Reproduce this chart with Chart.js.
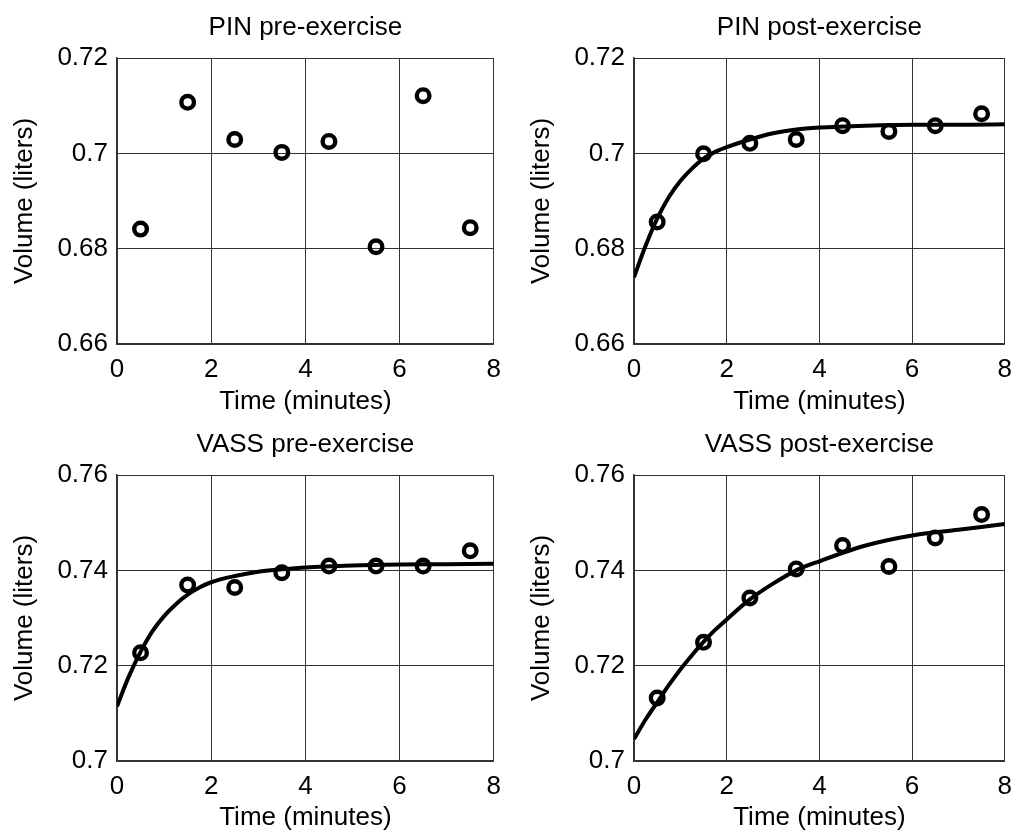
<!DOCTYPE html>
<html>
<head>
<meta charset="utf-8">
<title>Volume vs time</title>
<script src="https://cdn.jsdelivr.net/npm/chart.js@4.4.1/dist/chart.umd.min.js"></script>
<style>
  body { margin: 0; background: #fff; }
  canvas { position: absolute; }
</style>
</head>
<body>
<canvas id="pinPre" width="511" height="417" style="left:0;top:0"></canvas>
<canvas id="pinPost" width="511" height="417" style="left:511px;top:0"></canvas>
<canvas id="vassPre" width="511" height="416" style="left:0;top:417px"></canvas>
<canvas id="vassPost" width="511" height="416" style="left:511px;top:417px"></canvas>

<script>
// measured volumes (liters) at each minute
const minutes = [0.5, 1.5, 2.5, 3.5, 4.5, 5.5, 6.5, 7.5];
const pinPre = [0.6841, 0.7107, 0.7029, 0.7002, 0.7025, 0.6804, 0.7121, 0.6844];
const pinPost = [0.6856, 0.6999, 0.7021, 0.7029, 0.7058, 0.7046, 0.7058, 0.7083];
const vassPre = [0.7227, 0.7369, 0.7364, 0.7395, 0.7409, 0.7409, 0.7409, 0.7441];
const vassPost = [0.7132, 0.7249, 0.7342, 0.7403, 0.7452, 0.7408, 0.7468, 0.7517];

// fitted curves
const fitMinutes = [0, 0.25, 0.5, 0.75, 1, 1.25, 1.5, 1.75, 2, 2.5, 3, 3.5, 4, 5, 6, 7, 8];
const pinPostFit = [0.6740, 0.6806, 0.6863, 0.6908, 0.6942, 0.6968, 0.6989, 0.7003, 0.7013, 0.7029, 0.7042, 0.7050, 0.7054, 0.7058, 0.7060, 0.7060, 0.7061];
const vassPreFit = [0.7115, 0.7177, 0.7229, 0.7272, 0.7304, 0.7329, 0.7349, 0.7364, 0.7375, 0.7388, 0.7397, 0.7402, 0.7406, 0.7410, 0.7412, 0.7413, 0.7414];
const vassPostFit = [0.7046, 0.7087, 0.7123, 0.7159, 0.7192, 0.7222, 0.7250, 0.7275, 0.7297, 0.7339, 0.7372, 0.7400, 0.7419, 0.7452, 0.7473, 0.7485, 0.7497];

const xTicks = [0, 2, 4, 6, 8];
const pinTicks = [0.66, 0.68, 0.70, 0.72];
const vassTicks = [0.70, 0.72, 0.74, 0.76];

Chart.defaults.font.family = "'Liberation Sans', Arial, Helvetica, sans-serif";
Chart.defaults.font.size = 26;
Chart.defaults.color = '#000';

const toXY = (xs, ys) => xs.map((x, i) => ({ x: x, y: ys[i] }));

function drawPanel(id, title, values, fit, yTicks, side) {
  const datasets = [{
    data: toXY(minutes, values),
    showLine: false,
    pointRadius: 6.3,
    pointBorderWidth: 4.4,
    pointBorderColor: '#000',
    pointBackgroundColor: 'rgba(0,0,0,0)'
  }];
  if (fit) {
    datasets.push({
      data: toXY(fitMinutes, fit),
      showLine: true,
      pointRadius: 0,
      borderColor: '#000',
      borderWidth: 4,
      cubicInterpolationMode: 'monotone'
    });
  }
  const left = side === 'left';
  new Chart(document.getElementById(id), {
    type: 'scatter',
    data: { datasets: datasets },
    options: {
      responsive: false,
      animation: false,
      layout: { padding: { top: 0, left: 0, right: left ? 13 : 8, bottom: 0 } },
      plugins: {
        legend: { display: false },
        tooltip: { enabled: false }
      },
      scales: {
        x: {
          type: 'linear',
          min: 0,
          max: 8,
          afterBuildTicks: s => { s.ticks = xTicks.map(v => ({ value: v })); },
          afterFit: s => { s.height = id.startsWith('pin') ? 73 : 72; },
          grid: { color: '#333', lineWidth: 1, drawTicks: false },
          border: { color: '#333', width: 1.5 },
          ticks: { padding: 10, color: '#000', maxRotation: 0 },
          title: { display: true, text: 'Time (minutes)', color: '#000', padding: { top: 0, bottom: 0 } }
        },
        // top axis only carries the panel title, centred over the plot
        top: {
          type: 'linear',
          position: 'top',
          min: 0,
          max: 8,
          afterFit: s => { s.height = 58; },
          grid: { display: false, drawTicks: false },
          border: { display: false },
          ticks: { display: false },
          title: { display: true, text: title, color: '#000', padding: { top: 12, bottom: 0 } }
        },
        y: {
          type: 'linear',
          min: yTicks[0],
          max: yTicks[yTicks.length - 1],
          afterBuildTicks: s => { s.ticks = yTicks.map(v => ({ value: v })); },
          afterFit: s => { s.width = left ? 117 : 123; },
          grid: { color: '#333', lineWidth: 1, drawTicks: false },
          border: { color: '#333', width: 1.5 },
          ticks: { padding: 9, color: '#000', callback: v => String(+v.toFixed(2)) },
          title: { display: true, text: 'Volume (liters)', color: '#000', padding: { top: left ? 9 : 15, bottom: 0 } }
        }
      }
    }
  });
}

drawPanel('pinPre', 'PIN pre-exercise', pinPre, null, pinTicks, 'left');
drawPanel('pinPost', 'PIN post-exercise', pinPost, pinPostFit, pinTicks, 'right');
drawPanel('vassPre', 'VASS pre-exercise', vassPre, vassPreFit, vassTicks, 'left');
drawPanel('vassPost', 'VASS post-exercise', vassPost, vassPostFit, vassTicks, 'right');
</script>
</body>
</html>
